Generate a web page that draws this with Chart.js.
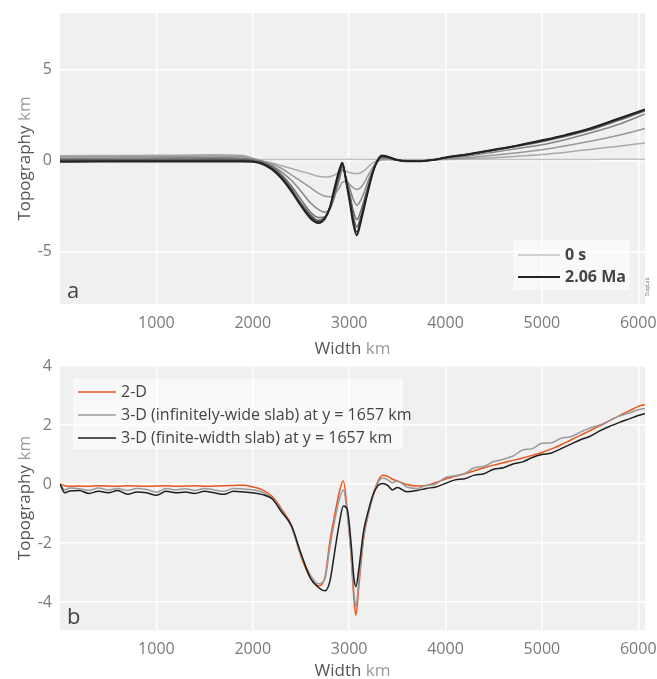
<!DOCTYPE html>
<html>
<head>
<meta charset="UTF-8">
<title>Topography</title>
<style>
body { margin: 0; background: white; }
div.panel { position: absolute; left: 0; width: 657px; }
</style>
<script src="https://cdn.jsdelivr.net/npm/chart.js@4.4.0/dist/chart.umd.min.js"></script>
</head>
<body>
<div class="panel" style="top:0;height:357px"><canvas id="top" width="657" height="357"></canvas></div>
<div class="panel" style="top:357px;height:322px"><canvas id="bottom" width="657" height="322"></canvas></div>
<script>
// ---- data ----
const xTicks = [1000, 2000, 3000, 4000, 5000, 6000]
const yTicksA = [-5, 0, 5]
const yTicksB = [-4, -2, 0, 2, 4]

// panel a: topography through time
const widthA = [0, 400, 800, 1200, 1600, 1900, 2000, 2100, 2200, 2300, 2400, 2500, 2600, 2680, 2750, 2800, 2850, 2900, 2930, 2970, 3010, 3040, 3080, 3120, 3160, 3200, 3250, 3300, 3340, 3400, 3500, 3600, 3700, 3800, 3900, 4000, 4250, 4500, 4750, 5000, 5250, 5500, 5800, 6070]
const timeLabels = ["0 s", "", "", "", "", "", "", "2.06 Ma"]
const topoT0 = [0.06, 0.05, 0.06, 0.05, 0.06, 0.05, 0.05, 0.05, 0.05, 0.05, 0.05, 0.04, 0.05, 0.05, 0.05, 0.04, 0.05, 0.05, 0.05, 0.05, 0.06, 0.05, 0.05, 0.05, 0.05, 0.05, 0.05, 0.06, 0.05, 0.05, 0.05, 0.05, 0.05, 0.05, 0.06, 0.05, 0.05, 0.04, 0.05, 0.05, 0.05, 0.05, 0.06, 0.05]
const topoT1 = [0.25, 0.26, 0.27, 0.28, 0.3, 0.26, 0.12, -0.03, -0.15, -0.3, -0.45, -0.6, -0.75, -0.88, -0.92, -0.9, -0.8, -0.65, -0.55, -0.6, -0.68, -0.72, -0.73, -0.68, -0.55, -0.35, -0.12, 0.0, 0.02, 0.03, 0.02, 0.01, 0.0, 0.0, 0.02, 0.04, 0.08, 0.14, 0.22, 0.32, 0.45, 0.6, 0.78, 0.95]
const topoT2 = [0.2, 0.2, 0.21, 0.22, 0.24, 0.2, 0.08, -0.05, -0.2, -0.45, -0.8, -1.15, -1.5, -1.8, -1.98, -2.0, -1.85, -1.5, -1.2, -1.15, -1.35, -1.5, -1.6, -1.5, -1.2, -0.8, -0.35, -0.05, 0.05, 0.06, 0.02, 0.0, -0.01, 0.0, 0.03, 0.07, 0.15, 0.28, 0.42, 0.58, 0.8, 1.05, 1.38, 1.75]
const topoT3 = [0.12, 0.12, 0.13, 0.14, 0.15, 0.12, 0.04, -0.08, -0.3, -0.65, -1.1, -1.7, -2.35, -2.7, -2.85, -2.7, -2.0, -1.05, -0.5, -0.95, -1.6, -2.1, -2.47, -2.2, -1.7, -1.1, -0.45, -0.05, 0.12, 0.1, 0.02, -0.02, -0.03, -0.01, 0.04, 0.1, 0.25, 0.45, 0.65, 0.85, 1.15, 1.5, 1.98, 2.55]
const topoT4 = [0.05, 0.05, 0.06, 0.07, 0.08, 0.06, 0.0, -0.1, -0.35, -0.8, -1.4, -2.15, -2.85, -3.15, -3.1, -2.65, -1.8, -0.85, -0.35, -1.05, -1.9, -2.7, -3.26, -2.8, -2.1, -1.35, -0.5, 0.0, 0.17, 0.14, 0.02, -0.03, -0.04, -0.02, 0.05, 0.13, 0.32, 0.54, 0.77, 1.02, 1.32, 1.66, 2.2, 2.72]
const topoT5 = [0.0, 0.0, 0.01, 0.02, 0.03, 0.02, -0.03, -0.15, -0.42, -0.9, -1.55, -2.35, -3.0, -3.3, -3.12, -2.6, -1.7, -0.7, -0.25, -1.1, -2.15, -3.0, -3.66, -3.1, -2.3, -1.45, -0.55, 0.02, 0.2, 0.16, 0.02, -0.04, -0.05, -0.02, 0.05, 0.14, 0.34, 0.56, 0.8, 1.06, 1.36, 1.7, 2.25, 2.76]
const topoT6 = [-0.05, -0.05, -0.04, -0.03, -0.03, -0.03, -0.06, -0.18, -0.45, -0.95, -1.65, -2.45, -3.1, -3.38, -3.15, -2.6, -1.6, -0.6, -0.18, -1.15, -2.3, -3.25, -3.94, -3.3, -2.4, -1.55, -0.6, 0.03, 0.24, 0.18, 0.02, -0.05, -0.05, -0.02, 0.05, 0.15, 0.35, 0.57, 0.81, 1.08, 1.38, 1.73, 2.28, 2.78]
const topoT7 = [-0.08, -0.07, -0.07, -0.06, -0.06, -0.06, -0.08, -0.2, -0.5, -1.0, -1.7, -2.5, -3.2, -3.45, -3.2, -2.6, -1.5, -0.5, -0.13, -1.2, -2.4, -3.4, -4.12, -3.4, -2.5, -1.6, -0.6, 0.05, 0.27, 0.2, 0.02, -0.05, -0.05, -0.02, 0.05, 0.15, 0.35, 0.58, 0.82, 1.1, 1.4, 1.75, 2.3, 2.8]
const greysA = ["#c2c2c2", "#aaaaaa", "#989898", "#858585", "#6e6e6e", "#575757", "#3e3e3e", "#222222"]

// panel b: 2-D vs 3-D models
const widthB = [0, 50, 100, 200, 300, 400, 500, 600, 700, 800, 900, 1000, 1100, 1200, 1300, 1400, 1500, 1600, 1700, 1800, 1900, 2000, 2100, 2200, 2300, 2400, 2500, 2600, 2680, 2750, 2800, 2850, 2900, 2940, 2980, 3020, 3050, 3070, 3100, 3150, 3200, 3250, 3300, 3350, 3400, 3450, 3500, 3600, 3700, 3800, 3900, 4000, 4100, 4200, 4300, 4400, 4500, 4600, 4700, 4800, 4900, 5000, 5100, 5200, 5300, 5400, 5500, 5600, 5700, 5800, 5900, 6000, 6070]
const labelsB = ["2-D", "3-D (infinitely-wide slab) at y = 1657 km", "3-D (finite-width slab) at y = 1657 km"]
const topo2D = [0.0, -0.06, -0.08, -0.07, -0.08, -0.06, -0.07, -0.08, -0.06, -0.07, -0.08, -0.07, -0.06, -0.08, -0.07, -0.06, -0.08, -0.07, -0.06, -0.05, -0.04, -0.1, -0.2, -0.42, -0.85, -1.4, -2.45, -3.2, -3.45, -3.15, -1.95, -1.05, -0.25, 0.1, -0.9, -2.4, -3.9, -4.45, -3.5, -1.85, -1.0, -0.35, 0.1, 0.3, 0.26, 0.16, 0.1, -0.02, -0.07, -0.05, 0.05, 0.17, 0.26, 0.35, 0.45, 0.55, 0.64, 0.72, 0.8, 0.88, 0.97, 1.07, 1.19, 1.33, 1.49, 1.65, 1.81, 1.97, 2.14, 2.31, 2.47, 2.63, 2.7]
const topo3DInf = [0.0, -0.2, -0.14, -0.16, -0.22, -0.14, -0.2, -0.15, -0.22, -0.15, -0.19, -0.28, -0.15, -0.2, -0.16, -0.22, -0.15, -0.2, -0.25, -0.15, -0.17, -0.2, -0.28, -0.48, -0.9, -1.45, -2.4, -3.1, -3.38, -3.2, -2.15, -1.25, -0.5, -0.2, -1.0, -2.4, -3.7, -4.15, -3.3, -1.8, -1.0, -0.4, 0.05, 0.2, 0.14, 0.04, 0.1, -0.1, -0.15, -0.05, 0.0, 0.22, 0.28, 0.36, 0.55, 0.6, 0.76, 0.84, 0.95, 1.15, 1.2, 1.38, 1.4, 1.55, 1.6, 1.76, 1.9, 2.0, 2.15, 2.3, 2.4, 2.52, 2.56]
const topo3DFin = [0.0, -0.3, -0.24, -0.22, -0.32, -0.25, -0.3, -0.22, -0.35, -0.27, -0.3, -0.38, -0.25, -0.3, -0.27, -0.32, -0.25, -0.3, -0.35, -0.25, -0.27, -0.3, -0.36, -0.5, -0.95, -1.4, -2.35, -3.2, -3.5, -3.62, -3.3, -2.3, -1.3, -0.75, -0.85, -2.0, -3.2, -3.48, -2.9, -1.6, -0.9, -0.35, -0.05, 0.02, -0.05, -0.2, -0.12, -0.26, -0.22, -0.15, -0.1, 0.02, 0.14, 0.18, 0.3, 0.35, 0.5, 0.55, 0.68, 0.75, 0.9, 1.0, 1.05, 1.2, 1.35, 1.5, 1.62, 1.8, 1.95, 2.08, 2.2, 2.32, 2.38]
const coloursB = ["#e8561f", "#9a9a9a", "#1e1e1e"]

// ---- drawing ----
const FONT = "'Open Sans', sans-serif"

function pts(xs, ys) {
    return xs.map((x, i) => ({x: x, y: ys[i]}))
}

function twoTone(ctx, a, b, cx, cy) {
    ctx.font = "17px " + FONT
    ctx.textBaseline = "middle"
    ctx.textAlign = "left"
    const wa = ctx.measureText(a + " ").width
    const wb = ctx.measureText(b).width
    const x = cx - (wa + wb) / 2
    ctx.fillStyle = "#555"
    ctx.fillText(a + " ", x, cy)
    ctx.fillStyle = "#999"
    ctx.fillText(b, x + wa, cy)
}

const frame = {
    id: "frame",
    beforeDraw(chart) {
        const a = chart.chartArea, ctx = chart.ctx
        ctx.save()
        ctx.fillStyle = "#f0f0f0"
        ctx.fillRect(a.left, a.top, a.right - a.left, a.bottom - a.top)
        ctx.restore()
    },
    afterDraw(chart, args, opts) {
        const a = chart.chartArea, ctx = chart.ctx
        ctx.save()
        twoTone(ctx, "Width", "km", (a.left + a.right) / 2, opts.xTitleY)
        ctx.translate(25, (a.top + a.bottom) / 2)
        ctx.rotate(-Math.PI / 2)
        twoTone(ctx, "Topography", "km", 0, 0)
        ctx.restore()

        ctx.save()
        ctx.font = "22px " + FONT
        ctx.fillStyle = "#444"
        ctx.textBaseline = "alphabetic"
        ctx.fillText(opts.letter, a.left + 7, a.bottom - 6)
        ctx.restore()

        // legend inside the plot area
        const L = opts.legend
        ctx.save()
        ctx.fillStyle = "rgba(255,255,255,0.6)"
        ctx.fillRect(L.x, L.y, L.w, L.h)
        ctx.font = (L.bold ? "bold " : "") + "16px " + FONT
        ctx.textBaseline = "middle"
        ctx.textAlign = "left"
        L.show.forEach((k, i) => {
            const ds = chart.data.datasets[k]
            const y = L.y + L.first + i * L.gap
            ctx.strokeStyle = ds.borderColor
            ctx.lineWidth = ds.borderWidth
            ctx.beginPath()
            ctx.moveTo(L.x + 5, y)
            ctx.lineTo(L.x + 5 + L.line, y)
            ctx.stroke()
            ctx.fillStyle = "#444"
            ctx.fillText(ds.label, L.x + L.line + 10, y)
        })
        ctx.restore()

        if (opts.credit) {
            ctx.save()
            ctx.translate(a.right + 4, a.bottom - 8)
            ctx.rotate(-Math.PI / 2)
            ctx.font = "5px " + FONT
            ctx.fillStyle = "#666"
            ctx.fillText(opts.credit, 0, 0)
            ctx.restore()
        }
    }
}

function scales(yMin, yMax, yTicks, xHeight) {
    const tickFont = {size: 16, family: FONT}
    return {
        x: {
            type: "linear", min: 0, max: 6070,
            grid: {color: "#ffffff", lineWidth: 1.5, drawTicks: false},
            border: {display: false},
            ticks: {font: tickFont, color: "#7a7a7a", padding: 10, maxRotation: 0, callback: v => String(v)},
            afterBuildTicks: s => { s.ticks = xTicks.map(v => ({value: v})) },
            afterFit: s => { s.height = xHeight; s.paddingLeft = 0; s.paddingRight = 0 },
        },
        y: {
            min: yMin, max: yMax,
            grid: {color: "#ffffff", lineWidth: 1.5, drawTicks: false},
            border: {display: false},
            ticks: {font: tickFont, color: "#7a7a7a", padding: 8, callback: v => String(v)},
            afterBuildTicks: s => { s.ticks = yTicks.map(v => ({value: v})) },
            afterFit: s => { s.width = 60; s.paddingTop = 0; s.paddingBottom = 0 },
        },
    }
}

const common = {
    responsive: false,
    animation: false,
    events: [],
    elements: {point: {radius: 0}, line: {cubicInterpolationMode: "monotone"}},
    plugins: {legend: {display: false}, tooltip: {enabled: false}},
}

const topsets = [topoT0, topoT1, topoT2, topoT3, topoT4, topoT5, topoT6, topoT7].map((ys, i) => ({
    label: timeLabels[i],
    data: pts(widthA, ys),
    borderColor: greysA[i],
    borderWidth: i === 7 ? 2 : 1.5,
    order: 8 - i,
}))

new Chart(document.getElementById("top"), {
    type: "line",
    data: {datasets: topsets},
    options: Object.assign({}, common, {
        layout: {padding: {top: 13, right: 12, left: 0, bottom: 0}},
        scales: scales(-7.9, 8.1, yTicksA, 53),
        plugins: Object.assign({}, common.plugins, {
            frame: {
                xTitleY: 349, letter: "a", credit: "StagLab",
                legend: {x: 513, y: 240, w: 117, h: 50, first: 15, gap: 22, line: 42, bold: true, show: [0, 7]},
            },
        }),
    }),
    plugins: [frame],
})

const botsets = [topo2D, topo3DInf, topo3DFin].map((ys, i) => ({
    label: labelsB[i],
    data: pts(widthB, ys),
    borderColor: coloursB[i],
    borderWidth: 1.5,
    order: 3 - i,
}))

new Chart(document.getElementById("bottom"), {
    type: "line",
    data: {datasets: botsets},
    options: Object.assign({}, common, {
        layout: {padding: {top: 9, right: 12, left: 0, bottom: 0}},
        scales: scales(-4.95, 4.0, yTicksB, 49),
        plugins: Object.assign({}, common.plugins, {
            frame: {
                xTitleY: 314, letter: "b",
                legend: {x: 73, y: 22, w: 330, h: 70, first: 13, gap: 23, line: 38, bold: false, show: [0, 1, 2]},
            },
        }),
    }),
    plugins: [frame],
})
</script>
</body>
</html>
